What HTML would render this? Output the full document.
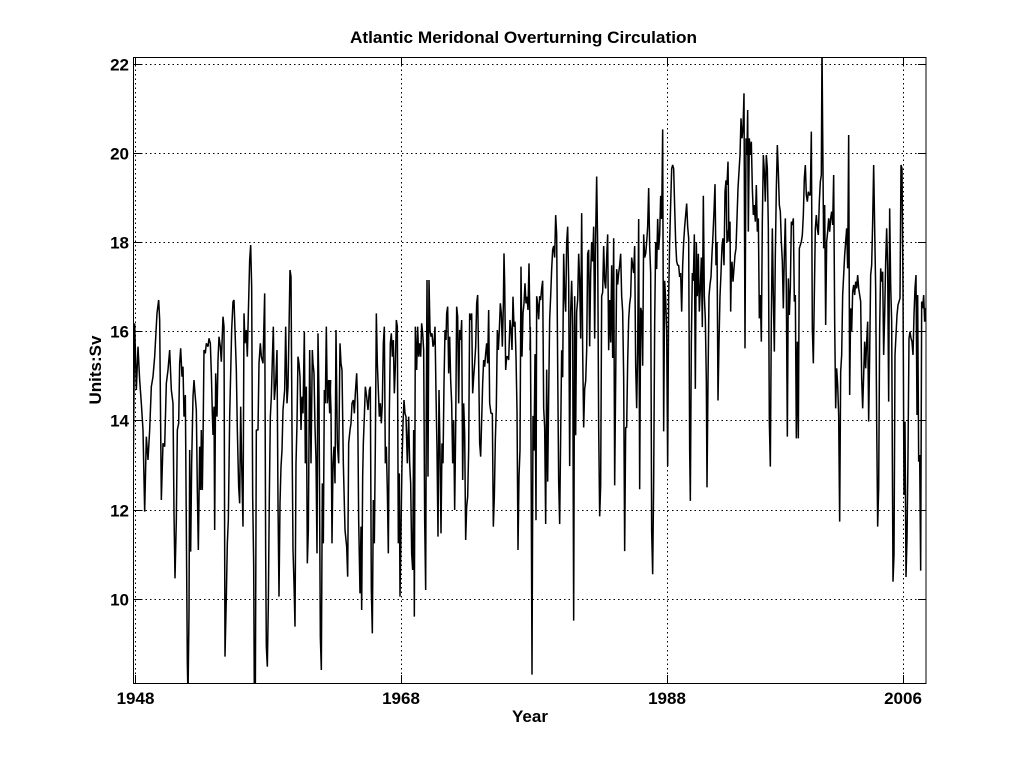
<!DOCTYPE html>
<html>
<head>
<meta charset="utf-8">
<style>
html,body{margin:0;padding:0;background:#fff;}
svg{display:block;}
text{font-family:"Liberation Sans",Arial,sans-serif;font-weight:bold;fill:#000;}
</style>
</head>
<body>
<svg width="1024" height="768" viewBox="0 0 1024 768" xmlns="http://www.w3.org/2000/svg">
<rect x="0" y="0" width="1024" height="768" fill="#fff"/>
<defs>
<clipPath id="ax"><rect x="133" y="57" width="793" height="626"/></clipPath>
</defs>

<!-- grid -->
<g stroke="#000" stroke-width="1" stroke-dasharray="1.5,3" fill="none" shape-rendering="crispEdges">
<line x1="141" y1="64.5" x2="918" y2="64.5"/>
<line x1="141" y1="153.5" x2="918" y2="153.5"/>
<line x1="141" y1="242.5" x2="918" y2="242.5"/>
<line x1="141" y1="331.5" x2="918" y2="331.5"/>
<line x1="141" y1="420.5" x2="918" y2="420.5"/>
<line x1="141" y1="510.5" x2="918" y2="510.5"/>
<line x1="141" y1="599.5" x2="918" y2="599.5"/>
<line x1="135.5" y1="65" x2="135.5" y2="675"/>
<line x1="401.5" y1="65" x2="401.5" y2="675"/>
<line x1="667.5" y1="65" x2="667.5" y2="675"/>
<line x1="903.5" y1="65" x2="903.5" y2="675"/>
</g>

<!-- data -->
<g clip-path="url(#ax)" fill="none" stroke="#000" stroke-linejoin="bevel">
<g transform="translate(133,230) scale(0.333333)">
<polyline vector-effect="non-scaling-stroke" stroke-width="1.5" points="0,780 5,280 10,480 15,350 20,450 25,520 30,600 35,845 40,620 45,690 50,600 55,470 60,440 65,380 72,250 77,210 80,270 85,810 90,640 95,650 100,460 105,420 110,360 115,480 120,520 123,850 126,1045 130,870 133,600 137,580 140,400 143,355 147,440 150,410 153,560 157,495 160,890 163,1300 165,1400 168,1150 170,660 173,965 176,700 180,500 183,450 186,490 190,540 193,780 196,960 200,650 203,780 205,600 208,780 210,640 213,360 217,370 220,340 225,350 228,325 232,340 235,430 238,550 240,615 243,530 245,900 248,430 252,560 255,390 258,320 262,350 265,395 270,260 273,290 276,1280 280,1100 283,940 286,870 290,560 293,430 296,300 300,215 303,210 306,300 310,420 313,600 317,770 320,820 323,530 326,700 330,890 333,250 336,340 340,300 343,380 346,250 350,90 353,45 356,170 359,800 362,1000 364,1400 367,1400 370,600 375,600 378,400 382,340 385,380 390,400 395,190 398,970 400,1250 403,1310 406,1120 409,800 412,560 415,500 418,390 421,290 424,510 428,460 432,360 435,820 438,1100 441,820 444,710 447,660 450,540 455,480 458,290 462,520 465,470 468,300 471,120 474,140 477,600 480,960 483,1060 486,1190 489,700 492,580 495,380 498,400 501,440 504,600 507,500 510,550 514,305 517,700 520,470 523,1000 526,900 530,360 534,700 538,360 540,400 543,430 546,590 549,690 552,970 555,310 558,500 562,1220 565,1320 568,760 571,940 574,480 577,520 580,290 583,520 587,450 590,550 593,450"/>
</g>
<g transform="translate(330,230) scale(0.333333)">
<polyline vector-effect="non-scaling-stroke" stroke-width="1.5" points="0,450 3,540 6,940 9,700 12,650 15,760 18,300 22,640 26,700 30,340 33,400 36,420 40,700 45,900 50,950 53,1040 56,640 60,600 63,580 66,520 70,510 73,550 76,490 80,430 83,520 86,870 90,1090 93,890 95,1140 98,740 100,640 103,560 106,470 110,500 114,540 118,480 121,470 124,1080 127,1210 130,810 133,940 136,650 139,250 142,400 145,480 148,560 151,520 154,580 157,520 160,340 163,290 166,700 169,650 172,780 175,970 178,550 181,340 184,310 187,380 190,330 193,490 196,410 199,270 202,290 205,940 208,730 210,1100 213,900 216,700 219,580 222,510 225,550 228,560 232,700 236,560 239,700 242,760 245,970 248,1020 251,600 253,1160 256,290 260,420 263,290 266,380 269,340 272,380 275,280 278,310 281,360 284,870 287,1080 289,520 291,150 294,740 297,150 300,300 303,320 306,310 309,350 312,340 315,290 318,490 321,660 324,920 327,480 330,660 333,910 336,640 339,700 342,460 345,300 348,330 350,250 353,230 356,430 359,320 362,450 365,520 368,700 371,570 374,840 377,600 380,230 383,260 386,520 389,300 392,330 395,270 398,750 401,520 404,610 407,930 410,830 413,800 416,660 419,250 422,270 425,250 428,490 431,440 434,400 437,350 440,220 443,195 446,400 449,640 452,680 455,570 458,460 461,390 464,410 467,370 470,340 473,400 476,240 479,520 483,550 487,550 490,890 493,800 496,630 499,530 502,300 505,360 508,300 511,220 514,250 517,350 520,230 522,70 524,160 527,420 530,380 533,380 536,390 540,270 543,300 546,360 549,200 552,290 555,275 558,380 561,540 564,960 567,740 570,660 573,110 576,380 579,250 582,220 585,160 588,220 591,200 594,240 597,100 600,300"/>
</g>
<g transform="translate(527,79.92) scale(0.333333,0.3862)">
<polyline vector-effect="non-scaling-stroke" stroke-width="1.5" points="9,700 10,640 12,920 15,1540 18,870 21,960 24,710 27,1140 29,560 32,580 35,620 38,560 41,570 44,540 47,520 50,850 53,900 56,1150 59,750 62,1040 65,820 68,620 71,560 74,490 77,440 80,430 83,460 86,350 89,400 92,740 95,1040 98,1150 101,920 104,700 107,770 110,450 113,560 116,600 119,420 122,380 125,520 128,1000 131,600 134,520 137,640 140,1400 143,560 146,920 149,600 152,570 155,450 158,520 161,670 164,345 167,700 170,900 173,800 176,780 179,700 182,450 185,440 188,690 191,500 194,420 197,470 200,380 203,670 206,400 209,250 212,430 215,900 218,1130 221,1050 224,560 227,550 230,430 233,520 236,540 239,460 242,400 245,700 248,570 251,680 254,480 257,720 260,410 263,1050 266,780 269,490 272,530 275,500 278,480 281,450 284,560 287,600 290,770 293,1220 296,900 299,900 302,730 305,620 308,580 311,560 314,460 317,480 320,500 323,430 326,740 329,850 332,700 335,360 338,1060 341,590 344,600 347,740 350,400 353,460 356,450 359,420 362,380 365,280 368,430 371,500 374,1170 377,1280 380,1040 383,630 386,420 389,490 392,360 395,440 398,400 401,300 404,360 407,128 410,910 413,520 416,570 419,650 422,1000 425,560 428,420 431,320 434,230 437,220 440,230 443,330 446,420 449,470 452,480 455,480 458,510 461,500 464,600 467,480 470,420 473,380 476,350 479,320 482,380 485,410 488,960 490,1090 493,680 496,500 499,520 502,400 505,800 508,420 511,560 514,450 517,600 520,540 523,460 526,640 529,300 532,560 535,620 538,780 540,1055 543,780 546,560 549,530 552,510 555,450 558,400 561,340 564,270 567,480 570,420 573,830 576,680 579,560 582,500 585,430 588,410 591,480 594,290 597,260 600,420 606,380"/>
</g>
<g transform="translate(725,55) scale(0.333333)">
<polyline vector-effect="non-scaling-stroke" stroke-width="1.5" points="6,390 9,320 12,560 15,500 17,770 19,650 21,620 24,680 27,640 30,600 33,580 36,490 39,400 42,350 45,300 48,190 51,250 54,220 57,115 60,880 63,250 66,300 68,165 70,530 73,250 76,300 79,260 82,400 85,480 88,450 91,500 94,390 97,530 100,490 103,790 106,720 109,860 112,500 115,300 118,350 121,440 124,300 127,340 130,520 133,1100 136,1235 139,800 142,520 145,720 148,890 151,600 154,400 157,270 160,350 163,450 166,470 169,560 172,620 175,760 178,600 181,490 184,700 187,1145 190,670 193,780 196,700 199,500 202,510 205,490 208,740 211,720 214,1150 217,860 220,1150 223,580 226,570 229,560 232,540 235,480 238,370 241,330 244,420 247,440 250,410 253,420 256,420 259,230 262,820 265,925 268,720 271,520 274,480 277,520 280,540 283,440 286,380 289,360 291,-30 293,230 296,580 299,450 302,810 305,560 308,530 311,490 314,530 317,490 320,470 323,510 326,360 329,800 332,1060 335,940 338,990 341,1080 344,1400 347,950 350,900 353,720 356,660 359,600 362,560 365,520 368,640 371,240 374,1020 377,760 380,830 383,710 386,690 389,720 392,680 395,700 398,660 401,700 404,720 407,740 410,970 413,1060 416,960 419,860 422,940 425,860 428,800 431,1100 434,900 437,660 440,630 443,500 446,330 449,520 452,700 455,1100 458,1415 461,1300 464,820 467,640 470,680 473,650 476,900 479,780 482,620 485,520 488,640 491,1040 494,460 497,690 500,800 502,1200 504,1580 507,1500 510,900 513,840 516,780 519,750 522,740 525,730 528,330 531,340 534,700 537,1320 540,1100 543,1566 546,1450 549,1200 552,850 555,830 558,850 561,860 564,900 567,780 570,700 573,660 576,1080 578,720 581,1220 584,1200 587,1547 590,740 593,760 596,720 599,800 602,760 605,760"/>
</g>
</g>

<!-- axes box and ticks -->
<g stroke="#000" stroke-width="1" fill="none" shape-rendering="crispEdges">
<rect x="133.5" y="57.5" width="792.5" height="626"/>
<line x1="133" y1="64.5" x2="141" y2="64.5"/>
<line x1="133" y1="153.5" x2="141" y2="153.5"/>
<line x1="133" y1="242.5" x2="141" y2="242.5"/>
<line x1="133" y1="331.5" x2="141" y2="331.5"/>
<line x1="133" y1="420.5" x2="141" y2="420.5"/>
<line x1="133" y1="510.5" x2="141" y2="510.5"/>
<line x1="133" y1="599.5" x2="141" y2="599.5"/>
<line x1="918" y1="64.5" x2="926" y2="64.5"/>
<line x1="918" y1="153.5" x2="926" y2="153.5"/>
<line x1="918" y1="242.5" x2="926" y2="242.5"/>
<line x1="918" y1="331.5" x2="926" y2="331.5"/>
<line x1="918" y1="420.5" x2="926" y2="420.5"/>
<line x1="918" y1="510.5" x2="926" y2="510.5"/>
<line x1="918" y1="599.5" x2="926" y2="599.5"/>
<line x1="135.5" y1="675" x2="135.5" y2="683"/>
<line x1="401.5" y1="675" x2="401.5" y2="683"/>
<line x1="667.5" y1="675" x2="667.5" y2="683"/>
<line x1="903.5" y1="675" x2="903.5" y2="683"/>
<line x1="135.5" y1="57" x2="135.5" y2="65"/>
<line x1="401.5" y1="57" x2="401.5" y2="65"/>
<line x1="667.5" y1="57" x2="667.5" y2="65"/>
<line x1="903.5" y1="57" x2="903.5" y2="65"/>
</g>

<!-- tick labels -->
<g font-size="17" text-anchor="end">
<text x="129" y="70.5">22</text>
<text x="129" y="159.5">20</text>
<text x="129" y="248.5">18</text>
<text x="129" y="337.5">16</text>
<text x="129" y="426.5">14</text>
<text x="129" y="516.5">12</text>
<text x="129" y="605.5">10</text>
</g>
<g font-size="17" text-anchor="middle">
<text x="135.5" y="704">1948</text>
<text x="401" y="704">1968</text>
<text x="667" y="704">1988</text>
<text x="903" y="704">2006</text>
</g>

<text x="530" y="722" font-size="17" text-anchor="middle">Year</text>
<text transform="translate(101,370) rotate(-90)" font-size="17" text-anchor="middle">Units:Sv</text>
<text x="350" y="43" font-size="17" textLength="347" lengthAdjust="spacingAndGlyphs">Atlantic Meridonal Overturning Circulation</text>
</svg>
</body>
</html>
